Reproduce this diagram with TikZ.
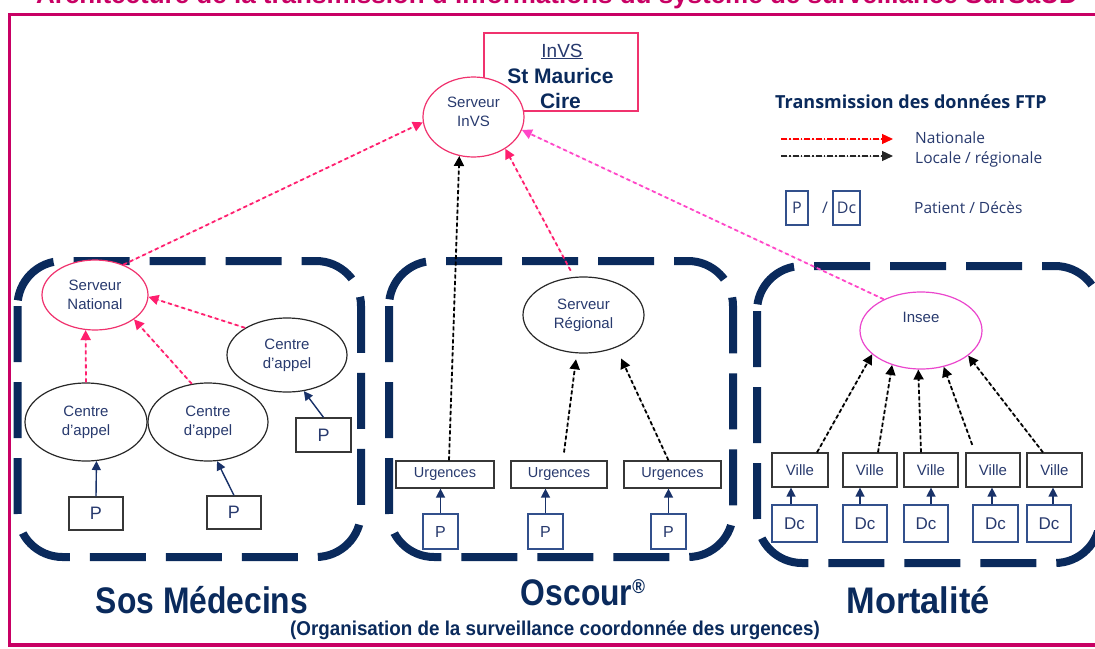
\documentclass[tikz,border=0pt]{standalone}
\usepackage{fontspec}
\setmainfont{Liberation Sans}
\newfontfamily\condfont[FakeStretch=0.86]{Liberation Sans}
\newfontfamily\orgfont[FakeStretch=0.94]{Liberation Sans}
\newfontfamily\legfont{Open Sans}
\usetikzlibrary{shapes.geometric,arrows.meta}
\definecolor{framecol}{RGB}{200,0,100}
\definecolor{navy}{RGB}{10,42,92}
\definecolor{txt}{RGB}{40,58,110}
\definecolor{pinkline}{RGB}{255,30,110}
\definecolor{magline}{RGB}{255,70,200}
\definecolor{pinkell}{RGB}{240,50,110}
\definecolor{magell}{RGB}{235,70,205}
\definecolor{boxblue}{RGB}{50,80,140}
\definecolor{boxgray}{RGB}{55,55,55}
\definecolor{ellgray}{RGB}{40,40,40}
\definecolor{solcol}{RGB}{25,50,105}
\begin{document}
\begin{tikzpicture}[x=1pt,y=-1pt,
  ell/.style={ellipse,draw=ellgray,fill=white,line width=1.2pt,inner sep=0pt,align=center,text=txt,font=\fontsize{15}{19}\selectfont},
  pbox/.style={draw=boxblue,fill=white,line width=1.2pt,inner sep=0pt,text=txt,font=\fontsize{16}{16}\selectfont},
  lbox/.style={draw=boxgray,fill=white,line width=1.2pt,inner sep=0pt,text=txt,font=\fontsize{14.5}{16}\selectfont},
  grp/.style={draw=navy,line width=8pt,rounded corners=45pt,dash pattern=on 56pt off 20pt},
  nat/.style={draw=pinkline,line width=1.8pt,dash pattern=on 4pt off 3pt,-{Triangle[length=10pt,width=10pt]},fill=pinkline},
  magnat/.style={draw=magline,line width=1.8pt,dash pattern=on 4pt off 3pt,-{Triangle[length=10pt,width=10pt]},fill=magline},
  loc/.style={draw=black,line width=1.8pt,dash pattern=on 4pt off 2.5pt,-{Triangle[length=10pt,width=10pt]},fill=black},
  sol/.style={draw=solcol,line width=1.4pt,-{Triangle[length=9pt,width=9pt]},fill=solcol},
  leg/.style={text=txt,font=\legfont\fontsize{15.5}{18}\selectfont,anchor=base west,inner sep=0pt},
  big/.style={text=navy,font=\condfont\bfseries\fontsize{37}{40}\selectfont,anchor=base,inner sep=0pt}
]
\clip (0,0) rectangle (1095,648);
\fill[white] (0,0) rectangle (1095,648);

% title (cut at top) and frame
\node[anchor=base,inner sep=0pt,text=framecol,font=\bfseries\fontsize{26}{30}\selectfont] (title) at (557,3.5) {Architecture de la transmission d'informations du système de surveillance SurSaUD};
\draw[framecol,line width=3.5pt] (1120,14.5) -- (9.5,14.5) -- (9.5,645) -- (1120,645);

% groups
\draw[grp] (17.5,261) rectangle (361,557);
\draw[grp] (389,261) rectangle (733,557);
\draw[grp] (757,266) rectangle (1100,563);

% InVS box
\node[draw=pinkell,line width=1.3pt,minimum width=154pt,minimum height=78pt,inner sep=0pt] (invsbox) at (561,72) {};
\node[anchor=base,inner sep=0pt,text=txt,font=\fontsize{19}{22}\selectfont] (tinvs) at (562,57) {\underline{InVS}};
\node[anchor=base,inner sep=0pt,text=navy,font=\bfseries\fontsize{21}{24}\selectfont] (tstm) at (560.5,83) {St Maurice};
\node[anchor=base,inner sep=0pt,text=navy,font=\bfseries\fontsize{21}{24}\selectfont] (tcire) at (560.5,108) {Cire};

% ellipses
\node[ell,draw=pinkell,minimum width=101pt,minimum height=80pt] (invs) at (473.5,117) {};
\node[ell,draw=none,fill=none,inner sep=0pt] (tinvsserv) at ([yshift=5pt]invs.center) {Serveur\\InVS};
\node[ell,draw=pinkell,minimum width=106pt,minimum height=70pt] (sn) at (95,295) {Serveur\\National};
\node[ell,minimum width=122pt,minimum height=78pt] (ca1) at (86,422) {Centre\\d'appel};
\node[ell,minimum width=120pt,minimum height=78pt] (ca2) at (208,422) {Centre\\d'appel};
\node[ell,minimum width=120pt,minimum height=74pt] (ca3) at (287,355) {Centre\\d'appel};
\node[ell,minimum width=121pt,minimum height=76pt] (sr) at (583.5,315) {Serveur\\Régional};
\node[ell,draw=magell,minimum width=122pt,minimum height=77pt] (insee) at (921,330.5) {};
\node[text=txt,font=\fontsize{15}{19}\selectfont,inner sep=0pt] (tinsee) at ([yshift=13pt]insee.center) {Insee};

% boxes Sos
\node[pbox,draw=boxgray,font=\fontsize{18}{18}\selectfont,minimum width=54pt,minimum height=33pt] (p1) at (96,513.5) {P};
\node[pbox,draw=boxgray,font=\fontsize{18}{18}\selectfont,minimum width=54pt,minimum height=33pt] (p2) at (234,512.5) {P};
\node[pbox,draw=boxgray,font=\fontsize{18}{18}\selectfont,minimum width=55pt,minimum height=34pt] (p3) at (323.5,435) {P};

% boxes Oscour
\node[lbox,minimum width=98pt,minimum height=27pt] (u1) at (445,474.5) {Urgences};
\node[lbox,minimum width=96pt,minimum height=27pt] (u2) at (559,474.5) {Urgences};
\node[lbox,minimum width=97pt,minimum height=27pt] (u3) at (672.5,474.5) {Urgences};
\node[pbox,minimum width=35pt,minimum height=35pt] (p4) at (440.5,531.5) {P};
\node[pbox,minimum width=35pt,minimum height=35pt] (p5) at (545.5,531.5) {P};
\node[pbox,minimum width=35pt,minimum height=35pt] (p6) at (668.5,531.5) {P};

% boxes Mortalite
\node[lbox,font=\fontsize{15}{16}\selectfont,minimum width=56pt,minimum height=34pt] (v1) at (800,470) {Ville};
\node[lbox,font=\fontsize{15}{16}\selectfont,minimum width=54pt,minimum height=34pt] (v2) at (870,470) {Ville};
\node[lbox,font=\fontsize{15}{16}\selectfont,minimum width=54pt,minimum height=34pt] (v3) at (931,470) {Ville};
\node[lbox,font=\fontsize{15}{16}\selectfont,minimum width=54pt,minimum height=34pt] (v4) at (993,470) {Ville};
\node[lbox,font=\fontsize{15}{16}\selectfont,minimum width=55pt,minimum height=34pt] (v5) at (1054.5,470) {Ville};
\node[pbox,font=\fontsize{17}{17}\selectfont,minimum width=45pt,minimum height=37pt] (d1) at (794.5,523.5) {Dc};
\node[pbox,font=\fontsize{17}{17}\selectfont,minimum width=44pt,minimum height=37pt] (d2) at (865,523.5) {Dc};
\node[pbox,font=\fontsize{17}{17}\selectfont,minimum width=44pt,minimum height=37pt] (d3) at (926,523.5) {Dc};
\node[pbox,font=\fontsize{17}{17}\selectfont,minimum width=45pt,minimum height=37pt] (d4) at (995.5,523.5) {Dc};
\node[pbox,font=\fontsize{17}{17}\selectfont,minimum width=44pt,minimum height=37pt] (d5) at (1049,523.5) {Dc};

% connectors Sos
\draw[nat] (sn.47) -- (invs.186);
\draw[nat] (ca1.90) -- (sn.255);
\draw[nat] (ca2.113) -- (sn.-32);
\draw[nat] (ca3.147) -- (sn.-2);
\draw[sol] (p1.north) -- (ca1.-75);
\draw[sol] (p2.north) -- (ca2.-77);
\draw[sol] (p3.north) -- (ca3.-65);

% connectors Oscour
\draw[loc] ([xshift=4pt]u1.north) -- (invs.250);
\draw[loc,shorten <=8pt,shorten >=6pt] ([xshift=4pt]u2.north) -- (sr.260);
\draw[loc,shorten >=12pt] ([xshift=-4pt]u3.north) -- (sr.-45);
\draw[nat,shorten <=7pt] (sr.104) -- (invs.-45);
\draw[sol] (p4.north) -- (p4.north |- u1.south);
\draw[sol] (p5.north) -- (p5.north |- u2.south);
\draw[sol] (p6.north) -- (p6.north |- u3.south);

% connectors Mortalite
\draw[loc] ([xshift=17pt]v1.north) -- (insee.206);
\draw[loc] ([xshift=8pt]v2.north) -- (insee.230);
\draw[loc] ([xshift=-10pt]v3.north) -- (insee.266);
\draw[loc,shorten <=8pt] ([xshift=-18pt]v4.north) -- (insee.-58);
\draw[loc] ([xshift=-11.5pt]v5.north) -- (insee.-28);
\draw[sol] ([xshift=-3.5pt]d1.north) -- ([xshift=-3.5pt]d1.north |- v1.south);
\draw[sol] ([xshift=-5pt]d2.north) -- ([xshift=-5pt]d2.north |- v2.south);
\draw[sol] ([xshift=5pt]d3.north) -- ([xshift=5pt]d3.north |- v3.south);
\draw[sol] ([xshift=-3.5pt]d4.north) -- ([xshift=-3.5pt]d4.north |- v4.south);
\draw[sol] ([xshift=4pt]d5.north) -- ([xshift=4pt]d5.north |- v5.south);
\draw[magnat] (insee.140) -- (invs.-15);

% legend
\node[anchor=base west,inner sep=0pt,text=navy,font=\legfont\bfseries\fontsize{18}{20}\selectfont] (legtitle) at (775,108) {Transmission des données FTP};
\coordinate (n1) at (781,139); \coordinate (n2) at (893,139);
\coordinate (k1) at (781,156); \coordinate (k2) at (893,156);
\draw[red,line width=1.2pt,dash pattern=on 6pt off 2pt on 1.5pt off 2pt,-{Triangle[length=11pt,width=10pt]},fill=red] (n1) -- (n2);
\draw[black!85,line width=1.2pt,dash pattern=on 6pt off 2pt on 1.5pt off 2pt,-{Triangle[length=11pt,width=10pt]},fill=black] (k1) -- (k2);
\node[leg] (lnat) at (915,143) {Nationale};
\node[leg] (lloc) at (915,163) {Locale / régionale};
\node[draw=boxblue,line width=1.2pt,inner sep=0pt,minimum width=22pt,minimum height=34pt,text=txt,font=\legfont\fontsize{16}{16}\selectfont] (lp) at (797,208) {P};
\node[inner sep=0pt,text=txt,font=\legfont\fontsize{16}{16}\selectfont] (lsl) at (825,208) {/};
\node[draw=boxblue,line width=1.2pt,inner sep=0pt,minimum width=27pt,minimum height=34pt,text=txt,font=\legfont\fontsize{16}{16}\selectfont] (ldc) at (846.5,208) {Dc};
\node[leg] (lpat) at (914,213) {Patient / Décès};

% bottom labels
\node[big] (lsos) at (202,613) {Sos Médecins};
\node[big] (losc) at (583,605) {Oscour\raisebox{12pt}{\fontsize{20}{20}\selectfont ®}};
\node[big] (lmor) at (918,613) {\scalebox{1.08}[1]{Mortalité}};
\node[anchor=base,inner sep=0pt,text=navy,font=\orgfont\bfseries\fontsize{20}{22}\selectfont] (lorg) at (555,635) {(Organisation de la surveillance coordonnée des urgences)};
\end{tikzpicture}
\end{document}
